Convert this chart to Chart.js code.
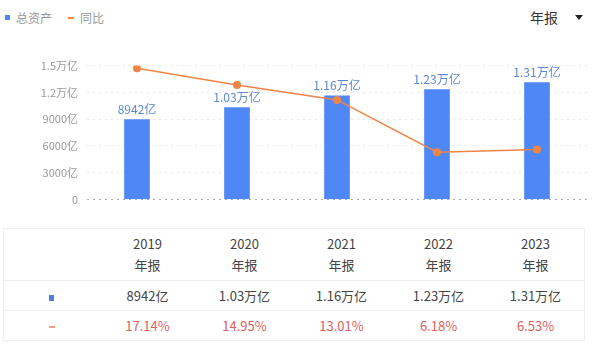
<!DOCTYPE html>
<html lang="zh">
<head>
    <meta charset="UTF-8">
    <title>总资产</title>
    <script src="https://cdn.jsdelivr.net/npm/chart.js"></script>
    <style>
        body {
            margin: 0;
            width: 592px;
            height: 352px;
            background: #fff;
            font-family: "Noto Sans CJK SC", "Noto Sans", sans-serif;
            position: relative;
            overflow: hidden;
        }
        #legend {
            position: absolute;
            left: 5px;
            top: 9px;
            font-size: 12px;
            color: #999;
            display: flex;
            align-items: center;
        }
        #legend .sq { width: 5px; height: 5px; background: #4f88f6; display: inline-block; margin-right: 6px; }
        #legend .dash { width: 6px; height: 2px; background: #f0874a; display: inline-block; margin: 0 6px 0 16px; }
        #period {
            position: absolute;
            left: 530px;
            top: 7px;
            font-size: 14px;
            color: #333;
        }
        #period .tri {
            position: absolute;
            left: 45px;
            top: 8px;
            width: 0; height: 0;
            border-left: 4px solid transparent;
            border-right: 4px solid transparent;
            border-top: 5px solid #222;
        }
        #chartBox {
            position: absolute;
            left: 0;
            top: 50px;
            width: 592px;
            height: 165px;
        }
        table {
            position: absolute;
            left: 3px;
            top: 228px;
            border-collapse: collapse;
            border: 1px solid #eee;
            font-size: 13px;
            color: #444;
        }
        td { text-align: center; border-top: 1px solid #eee; padding: 0; height: 29px; }
        tr.head td { height: 49px; line-height: 21px; border-top: none; padding-bottom: 2px; }
        td.pct { color: #e0605c; }
        .ico-sq { display: inline-block; width: 5px; height: 6px; background: #4f7fe0; }
        .ico-dash { display: inline-block; width: 6px; height: 2px; background: #f0a07a; vertical-align: middle; }
    </style>
</head>
<body>
    <div id="legend"><span class="sq"></span>总资产<span class="dash"></span>同比</div>
    <div id="period">年报<span class="tri"></span></div>
    <div id="chartBox"><canvas id="assetChart"></canvas></div>
    <table id="dataTable"></table>

    <script>
        // data (总资产 in 亿元, 同比 in %)
        const years = ['2019', '2020', '2021', '2022', '2023'];
        const totalAssets = [8942, 10300, 11600, 12300, 13100];
        const assetLabels = ['8942亿', '1.03万亿', '1.16万亿', '1.23万亿', '1.31万亿'];
        const yoyGrowth = [17.14, 14.95, 13.01, 6.18, 6.53];
        const yoyLabels = ['17.14%', '14.95%', '13.01%', '6.18%', '6.53%'];
        const yTickLabels = { 0: '0', 3000: '3000亿', 6000: '6000亿', 9000: '9000亿', 12000: '1.2万亿', 15000: '1.5万亿' };

        // value labels above the bars
        const barLabels = {
            id: 'barLabels',
            afterDatasetsDraw(chart) {
                const ctx = chart.ctx;
                const meta = chart.getDatasetMeta(1);
                ctx.save();
                ctx.font = '12px "Noto Sans CJK SC", sans-serif';
                ctx.fillStyle = '#5b8ad0';
                ctx.textAlign = 'center';
                ctx.textBaseline = 'bottom';
                meta.data.forEach((bar, i) => {
                    ctx.fillText(assetLabels[i], bar.x, bar.y - 4);
                });
                ctx.restore();
            }
        };

        new Chart(document.getElementById('assetChart'), {
            data: {
                labels: years,
                datasets: [
                    {
                        type: 'line',
                        label: '同比',
                        data: yoyGrowth,
                        yAxisID: 'y1',
                        borderColor: '#ef8447',
                        borderWidth: 1.5,
                        pointRadius: 4,
                        pointBackgroundColor: '#ef8447',
                        pointBorderWidth: 0,
                        tension: 0
                    },
                    {
                        type: 'bar',
                        label: '总资产',
                        data: totalAssets,
                        yAxisID: 'y',
                        backgroundColor: '#4f88f6',
                        barThickness: 25
                    }
                ]
            },
            options: {
                responsive: true,
                maintainAspectRatio: false,
                animation: false,
                layout: { padding: { top: 4, bottom: 7, right: 5, left: 0 } },
                plugins: { legend: { display: false }, tooltip: { enabled: false } },
                scales: {
                    x: { display: false },
                    y: {
                        min: 0,
                        max: 15000,
                        afterFit: (axis) => { axis.width = 87; },
                        ticks: {
                            stepSize: 3000,
                            padding: 9,
                            color: '#999',
                            font: { size: 11, family: '"Noto Sans CJK SC", sans-serif' },
                            callback: (v) => yTickLabels[v]
                        },
                        grid: {
                            drawTicks: false,
                            color: (c) => c.tick && c.tick.value === 0 ? '#aaa' : '#e6e6e6',
                            lineWidth: 1
                        },
                        border: { display: false, dash: [2, 4] }
                    },
                    y1: { display: false, min: 0, max: 17.5 }
                }
            },
            plugins: [barLabels]
        });

        // table under the chart
        const table = document.getElementById('dataTable');
        let html = '<tr class="head"><td style="width:95px"></td>' +
            years.map(y => `<td style="width:97px">${y}<br>年报</td>`).join('') + '</tr>';
        html += '<tr><td><span class="ico-sq"></span></td>' + assetLabels.map(v => `<td>${v}</td>`).join('') + '</tr>';
        html += '<tr><td><span class="ico-dash"></span></td>' + yoyLabels.map(v => `<td class="pct">${v}</td>`).join('') + '</tr>';
        table.innerHTML = html;
    </script>
</body>
</html>
